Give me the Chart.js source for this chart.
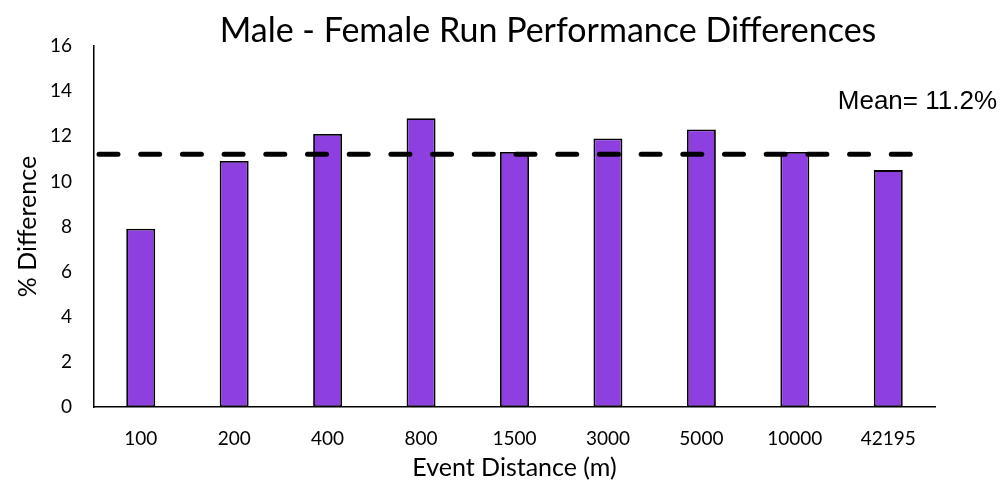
<!DOCTYPE html>
<html>
<head>
<meta charset="utf-8">
<script src="https://cdn.jsdelivr.net/npm/chart.js@4"></script>
<style>
  html, body { margin: 0; padding: 0; background: #fff; }
  #wrap { width: 1003px; height: 486px; position: relative; }
</style>
</head>
<body>
<div id="wrap"><canvas id="c" width="1003" height="486"></canvas></div>
<script>
// Event distances (m) and male-female performance gap (%)
const events = ['100', '200', '400', '800', '1500', '3000', '5000', '10000', '42195'];
const differences = [7.9, 10.9, 12.1, 12.8, 11.3, 11.9, 12.3, 11.3, 10.5];
const meanDifference = 11.2;
const yTicks = [0, 2, 4, 6, 8, 10, 12, 14, 16];
const chartTitle = 'Male - Female Run Performance Differences';

const FONT = 'Lato, "Open Sans", sans-serif';

// Chart heading, centred over the plot rather than the whole canvas
const heading = {
  id: 'heading',
  afterDraw(chart) {
    const { ctx } = chart;
    ctx.save();
    ctx.fillStyle = '#000';
    ctx.font = '34px ' + FONT;
    ctx.textAlign = 'center';
    ctx.textBaseline = 'middle';
    ctx.fillText(chartTitle, 548, 31);
    ctx.restore();
  }
};

// Dashed mean line with its label
const meanLine = {
  id: 'meanLine',
  afterDatasetsDraw(chart) {
    const { ctx, chartArea, scales } = chart;
    const y = scales.y.getPixelForValue(meanDifference);
    ctx.save();
    ctx.strokeStyle = '#000';
    ctx.lineWidth = 5;
    ctx.lineCap = 'round';
    ctx.setLineDash([19, 22.7]);
    ctx.beginPath();
    ctx.moveTo(chartArea.left + 5, y);
    ctx.lineTo(chartArea.right - 24, y);
    ctx.stroke();
    ctx.setLineDash([]);
    ctx.fillStyle = '#000';
    ctx.font = '26px "Liberation Sans", Arial, sans-serif';
    ctx.textAlign = 'right';
    ctx.textBaseline = 'middle';
    ctx.fillText('Mean= ' + meanDifference.toFixed(1) + '%', 997, y - 52);
    ctx.restore();
  }
};

new Chart(document.getElementById('c'), {
  type: 'bar',
  data: {
    labels: events,
    datasets: [{
      data: differences,
      backgroundColor: '#8e3fe0',
      borderColor: '#000',
      borderWidth: 1.8,
      borderSkipped: false,
      categoryPercentage: 1,
      barPercentage: 0.31
    }]
  },
  options: {
    responsive: false,
    animation: false,
    layout: { padding: { left: 0, right: 68, top: 46, bottom: 0 } },
    plugins: {
      legend: { display: false },
      tooltip: { enabled: false },
      title: { display: false }
    },
    scales: {
      x: {
        afterFit(axis) { axis.height = 79; },
        grid: { display: false, drawTicks: false },
        border: { display: true, color: '#000', width: 1.5 },
        ticks: { color: '#000', font: { family: FONT, size: 19 }, padding: 20, maxRotation: 0 },
        title: {
          display: true, text: 'Event Distance (m)', color: '#000',
          font: { family: FONT, size: 25 }, padding: { top: 0, bottom: 3 }
        }
      },
      y: {
        min: 0, max: 16,
        afterFit(axis) { axis.width = 94; },
        afterBuildTicks(axis) { axis.ticks = yTicks.map(v => ({ value: v })); },
        grid: { display: false, drawTicks: false },
        border: { display: true, color: '#000', width: 1.5 },
        ticks: { color: '#000', font: { family: FONT, size: 19 }, padding: 22 },
        title: {
          display: true, text: '% Difference', color: '#000',
          font: { family: FONT, size: 25 }, padding: { top: 13, bottom: 0 }
        }
      }
    }
  },
  plugins: [meanLine, heading]
});
</script>
</body>
</html>
